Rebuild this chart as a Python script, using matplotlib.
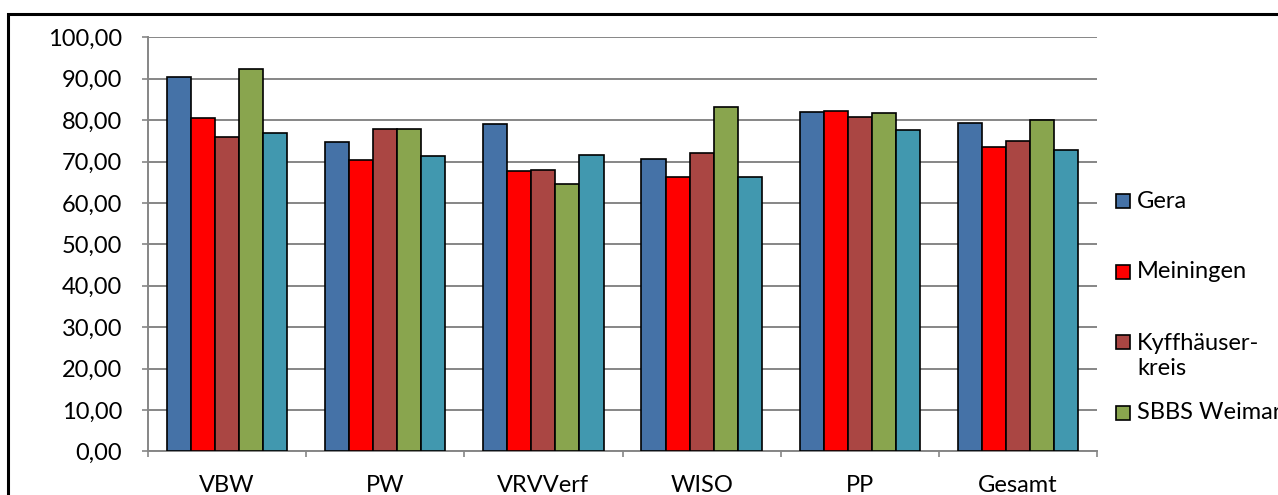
import matplotlib.pyplot as plt
import numpy as np
from matplotlib.patches import Rectangle

# Daten
categories = ['VBW', 'PW', 'VRVVerf', 'WISO', 'PP', 'Gesamt']
gera = [90.4, 74.8, 79.0, 70.5, 81.9, 79.2]
meiningen = [80.5, 70.4, 67.7, 66.3, 82.3, 73.4]
kyffhaeuser = [75.8, 77.9, 67.9, 72.0, 80.8, 74.9]
sbbs_weimar = [92.4, 77.8, 64.6, 83.2, 81.6, 80.0]
fuenfte = [77.0, 71.4, 71.5, 66.3, 77.6, 72.8]
yticks = [0, 10, 20, 30, 40, 50, 60, 70, 80, 90, 100]
ytick_labels = ['0,00', '10,00', '20,00', '30,00', '40,00', '50,00',
                '60,00', '70,00', '80,00', '90,00', '100,00']

series = [gera, meiningen, kyffhaeuser, sbbs_weimar, fuenfte]
labels = ['Gera', 'Meiningen', 'Kyffhäuser-\nkreis', 'SBBS Weimar', '']
colors = ['#4572A7', '#FF0000', '#AA4643', '#89A54E', '#4198AF']

plt.rcParams['font.family'] = ['Lato', 'DejaVu Sans']
fs = 17

W, H = 1278, 495
fig = plt.figure(figsize=(W / 100, H / 100), dpi=100)
ax = fig.add_axes([148 / W, 1 - 451.3 / H, (1097 - 148) / W, (451.3 - 37.3) / H])

x = np.arange(len(categories))
bw = 0.152
for i, vals in enumerate(series):
    ax.bar(x + (i - 2) * bw, vals, width=bw, color=colors[i],
           edgecolor='black', linewidth=1.2, zorder=3)

ax.set_xlim(-0.5, len(categories) - 0.5)
ax.set_ylim(0, 100)
ax.set_yticks(yticks)
ax.set_yticklabels(ytick_labels, fontsize=fs)
ax.set_xticks(x)
ax.set_xticklabels(categories, fontsize=fs)
ax.set_xticks(np.arange(-0.5, len(categories)), minor=True)

ax.grid(axis='y', color='#868686', linewidth=1.4, zorder=0)
for s in ['top', 'right']:
    ax.spines[s].set_visible(False)
for s in ['left', 'bottom']:
    ax.spines[s].set_color('#868686')
    ax.spines[s].set_linewidth(1.4)
ax.tick_params(axis='y', direction='out', length=4.5, width=1.2, color='#868686', pad=14)
ax.tick_params(axis='x', which='major', length=0, pad=17)
ax.tick_params(axis='x', which='minor', direction='out', length=4.5, width=1.2, color='#868686')

# Legende (nur die sichtbaren Einträge)
leg_y = [201.5, 271.5, 356, 412.5]
for i in range(4):
    yc = leg_y[i]
    sq_y = yc if i != 2 else 341.5
    fig.patches.append(Rectangle((1116 / W, 1 - (sq_y + 7) / H), 14 / W, 14 / H,
                                 transform=fig.transFigure, facecolor=colors[i],
                                 edgecolor='black', linewidth=1.2))
    fig.text(1137 / W, 1 - yc / H, labels[i], fontsize=fs, va='center', ha='left',
             linespacing=1.2)

# Rahmen
fig.patches.append(Rectangle((8 / W, -0.2), 1.5, (H - 14) / H + 0.2,
                             transform=fig.transFigure, fill=False,
                             edgecolor='black', linewidth=2.2))

fig.savefig('out.png', dpi=100)
